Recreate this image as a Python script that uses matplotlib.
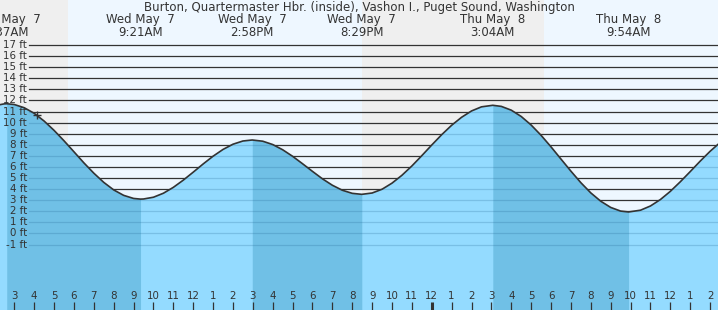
import numpy as np
import matplotlib
matplotlib.use("Agg")
import matplotlib.pyplot as plt

# tide heights (ft), hours counted from Wed May 7 00:00
tide_hours = [2.0, 2.5, 2.62, 3.0, 3.5, 4.0, 4.5, 5.0, 5.5, 6.0, 6.5, 7.0, 7.5, 8.0, 8.5,
              9.0, 9.35, 9.5, 10.0, 10.5, 11.0, 11.5, 12.0, 12.5, 13.0, 13.5, 14.0, 14.5,
              14.97, 15.5, 16.0, 16.5, 17.0, 17.5, 18.0, 18.5, 19.0, 19.5, 20.0, 20.48,
              21.0, 21.5, 22.0, 22.5, 23.0, 23.5, 24.0, 24.5, 25.0, 25.5, 26.0, 26.5,
              27.07, 27.5, 28.0, 28.5, 29.0, 29.5, 30.0, 30.5, 31.0, 31.5, 32.0, 32.5,
              33.0, 33.5, 33.9, 34.5, 35.0, 35.5, 36.0, 36.5, 37.0, 37.5, 38.0, 38.5]
tide_heights = [11.52, 11.69, 11.70, 11.63, 11.34, 10.84, 10.14, 9.30, 8.36, 7.37, 6.37,
                5.44, 4.61, 3.93, 3.44, 3.16, 3.10, 3.11, 3.27, 3.63, 4.16, 4.81, 5.53,
                6.27, 6.97, 7.58, 8.05, 8.34, 8.43, 8.32, 8.02, 7.55, 6.96, 6.29, 5.60,
                4.93, 4.35, 3.90, 3.62, 3.53, 3.65, 3.99, 4.54, 5.25, 6.09, 7.02, 7.98,
                8.91, 9.76, 10.48, 11.05, 11.42, 11.56, 11.46, 11.12, 10.55, 9.78, 8.85,
                7.81, 6.71, 5.62, 4.58, 3.66, 2.91, 2.35, 2.02, 1.94, 2.10, 2.48, 3.06,
                3.80, 4.66, 5.58, 6.52, 7.41, 8.20]

# high / low tides
extreme_hours = [2.62, 9.35, 14.97, 20.48, 27.07, 33.9]
extreme_days = ["Wed May  7", "Wed May  7", "Wed May  7", "Wed May  7", "Thu May  8", "Thu May  8"]
extreme_times = ["2:37AM", "9:21AM", "2:58PM", "8:29PM", "3:04AM", "9:54AM"]

# falling tide periods (high -> low)
ebb_periods = [(2.62, 9.35), (14.97, 20.48), (27.07, 33.9)]

# night (sunset -> sunrise)
night_periods = [(0.0, 5.72), (20.47, 29.65)]

now_hour, now_height = 4.13, 10.7

ft_levels = list(range(17, -2, -1))
tick_hours = list(range(3, 39))
tick_labels = [str((h - 1) % 12 + 1) for h in tick_hours]

title = "Burton, Quartermaster Hbr. (inside), Vashon I., Puget Sound, Washington"

################

txt = "#333333"
fs = 7.4       # axis labels
fs_head = 8.5  # title and tide times
x_lo, x_hi = 2.281, 38.398
y_lo, y_hi = -6.9, 21.055

fig = plt.figure(figsize=(7.18, 3.10), dpi=100)
ax = fig.add_axes([0, 0, 1, 1])
ax.set_xlim(x_lo, x_hi)
ax.set_ylim(y_lo, y_hi)
ax.axis("off")

# day / night background
ax.axvspan(x_lo, x_hi, color="#eef7ff", zorder=0, lw=0)
for a, b in night_periods:
    ax.axvspan(a, b, color="#efefef", zorder=0.1, lw=0)

# feet lines
for lv in ft_levels:
    ax.axhline(lv, xmin=29 / 718, xmax=1, color="#333333", lw=0.9, zorder=1)
    ax.text(27 / 718, lv, "%d ft" % lv, transform=ax.get_yaxis_transform(),
            ha="right", va="center", fontsize=fs, color=txt, zorder=5)

# water
th = np.array(tide_hours)
tv = np.array(tide_heights)
water = ax.fill_between(th, tv, y_lo, color="#94dbff", lw=0, zorder=2)
for a, b in ebb_periods:
    ax.fill_between(th, tv, y_lo, where=(th >= a) & (th <= b), color="#70c0e6", lw=0, zorder=2.1)

# feet lines seen through the water
wpath = water.get_paths()[0]
for lv in ft_levels:
    ln = ax.axhline(lv, xmin=29 / 718, xmax=1, color="#1b5f8c", alpha=0.22, lw=0.9, zorder=2.5)
    ln.set_clip_path(wpath, water.get_transform())

ax.plot(th, tv, color="#333333", lw=1.2, zorder=3)
ax.plot(now_hour, now_height, marker="+", color="#333333", ms=6, mew=1.0, zorder=4)

# header
ax.text((x_lo + x_hi) / 2, 1 - 7.3 / 310, title, transform=ax.get_xaxis_transform(),
        ha="center", va="center", fontsize=fs_head, color=txt)
for h, d, t in zip(extreme_hours, extreme_days, extreme_times):
    ax.text(h, 1 - 19.3 / 310, d, transform=ax.get_xaxis_transform(),
            ha="center", va="center", fontsize=fs_head, color=txt)
    ax.text(h, 1 - 32 / 310, t, transform=ax.get_xaxis_transform(),
            ha="center", va="center", fontsize=fs_head, color=txt)

# hour ticks, midnight a bit thicker
for h, lab in zip(tick_hours, tick_labels):
    ax.text(h, 1 - 295.7 / 310, lab, transform=ax.get_xaxis_transform(),
            ha="center", va="center", fontsize=fs, color=txt, zorder=5)
    w = 2.2 if h == 24 else 0.9
    ax.plot([h, h], [0, 8 / 310], transform=ax.get_xaxis_transform(),
            color="#333333", lw=w, zorder=5, solid_capstyle="butt")

plt.savefig("out.png", dpi=100)
